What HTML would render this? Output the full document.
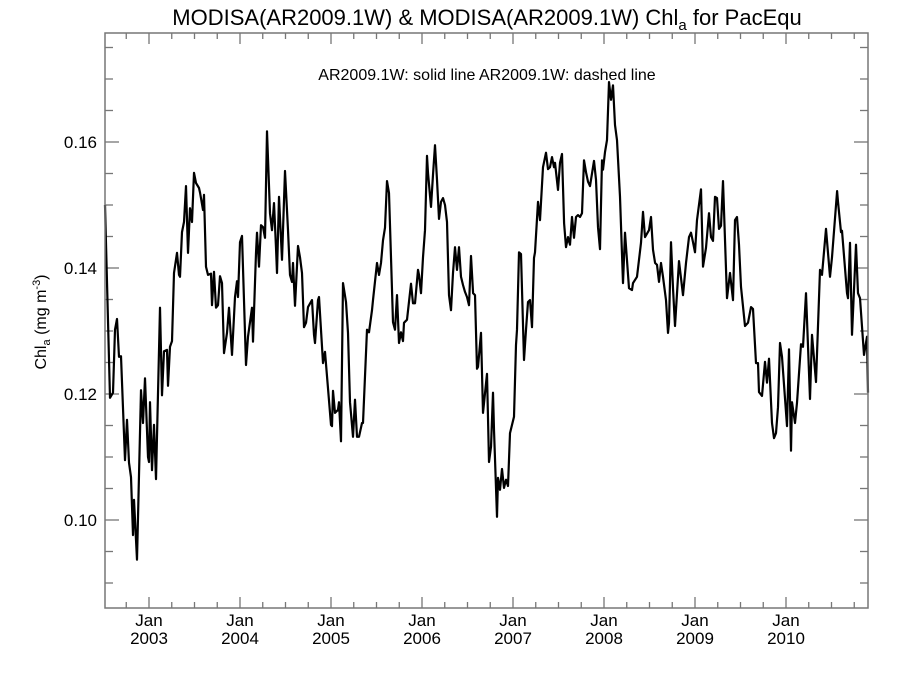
<!DOCTYPE html>
<html><head><meta charset="utf-8"><style>
html,body{margin:0;padding:0;background:#fff;}
svg{display:block;font-family:"Liberation Sans",Arial,sans-serif;}
</style></head><body>
<svg id="chart" width="900" height="675" viewBox="0 0 900 675" xmlns="http://www.w3.org/2000/svg">
<rect x="0" y="0" width="900" height="675" fill="#fff"/>
<text x="487" y="25" font-size="22" text-anchor="middle">MODISA(AR2009.1W) &amp; MODISA(AR2009.1W)  Chl<tspan font-size="15" dy="5">a</tspan><tspan dy="-5"> for PacEqu</tspan></text>
<text x="487" y="80" font-size="16" text-anchor="middle">AR2009.1W: solid line   AR2009.1W: dashed line</text>
<text transform="translate(46,322) rotate(-90)" font-size="16" text-anchor="middle">Chl<tspan font-size="11" dy="4">a</tspan><tspan dy="-4"> (mg m</tspan><tspan font-size="11" dy="-6">-3</tspan><tspan dy="6">)</tspan></text>
<g id="axes"></g>
<g id="series"></g>
<rect x="105" y="33" width="763" height="575" fill="none" stroke="#777" stroke-width="1.5"/>
</svg>
<script>
const times = [2002.451,2002.505,2002.538,2002.560,2002.582,2002.604,2002.626,2002.670,2002.692,2002.714,2002.736,2002.758,2002.769,2002.802,2002.846,2002.868,2002.890,2002.923,2002.934,2002.945,2002.967,2002.989,2003.011,2003.055,2003.077,2003.099,2003.132,2003.143,2003.165,2003.187,2003.209,2003.242,2003.264,2003.275,2003.297,2003.319,2003.341,2003.363,2003.385,2003.407,2003.429,2003.451,2003.484,2003.495,2003.527,2003.538,2003.560,2003.582,2003.615,2003.626,2003.648,2003.670,2003.692,2003.714,2003.736,2003.758,2003.791,2003.813,2003.846,2003.879,2003.901,2003.912,2003.934,2003.956,2004.000,2004.022,2004.066,2004.077,2004.110,2004.121,2004.143,2004.165,2004.187,2004.209,2004.231,2004.264,2004.286,2004.308,2004.330,2004.341,2004.363,2004.396,2004.429,2004.462,2004.484,2004.505,2004.516,2004.538,2004.571,2004.593,2004.615,2004.637,2004.659,2004.681,2004.725,2004.747,2004.758,2004.791,2004.802,2004.846,2004.868,2004.934,2004.945,2004.956,2004.978,2005.011,2005.022,2005.044,2005.066,2005.099,2005.121,2005.143,2005.176,2005.198,2005.220,2005.242,2005.275,2005.286,2005.330,2005.352,2005.385,2005.396,2005.440,2005.462,2005.484,2005.505,2005.527,2005.549,2005.571,2005.615,2005.637,2005.659,2005.681,2005.703,2005.725,2005.736,2005.769,2005.813,2005.835,2005.857,2005.890,2005.901,2005.923,2005.945,2005.967,2005.989,2006.000,2006.033,2006.055,2006.077,2006.099,2006.121,2006.143,2006.165,2006.187,2006.209,2006.231,2006.253,2006.275,2006.297,2006.319,2006.341,2006.363,2006.385,2006.407,2006.429,2006.451,2006.473,2006.495,2006.516,2006.538,2006.549,2006.582,2006.604,2006.648,2006.670,2006.692,2006.714,2006.725,2006.758,2006.769,2006.791,2006.813,2006.835,2006.857,2006.879,2006.901,2006.945,2006.967,2006.978,2007.000,2007.022,2007.055,2007.077,2007.099,2007.121,2007.143,2007.165,2007.176,2007.209,2007.231,2007.264,2007.297,2007.319,2007.341,2007.363,2007.385,2007.396,2007.429,2007.451,2007.473,2007.495,2007.516,2007.538,2007.560,2007.582,2007.604,2007.626,2007.648,2007.670,2007.692,2007.714,2007.736,2007.758,2007.780,2007.824,2007.846,2007.868,2007.890,2007.912,2007.923,2007.945,2007.967,2007.989,2008.011,2008.033,2008.055,2008.077,2008.110,2008.143,2008.165,2008.209,2008.242,2008.253,2008.297,2008.341,2008.363,2008.385,2008.429,2008.451,2008.473,2008.495,2008.516,2008.538,2008.560,2008.582,2008.615,2008.637,2008.648,2008.670,2008.692,2008.714,2008.758,2008.802,2008.835,2008.868,2008.890,2008.912,2008.934,2008.956,2009.000,2009.022,2009.055,2009.088,2009.110,2009.132,2009.154,2009.176,2009.198,2009.220,2009.242,2009.286,2009.319,2009.352,2009.374,2009.396,2009.418,2009.440,2009.484,2009.516,2009.549,2009.571,2009.604,2009.626,2009.637,2009.670,2009.703,2009.725,2009.747,2009.780,2009.802,2009.824,2009.846,2009.868,2009.890,2009.945,2009.967,2009.989,2010.000,2010.033,2010.055,2010.099,2010.121,2010.154,2010.198,2010.220,2010.264,2010.308,2010.330,2010.374,2010.418,2010.440,2010.495,2010.505,2010.538,2010.549,2010.604,2010.615,2010.637,2010.659,2010.703,2010.725,2010.747,2010.791,2010.824,2010.835];
const chlValues = [0.1500,0.1194,0.1202,0.1302,0.1319,0.1259,0.1260,0.1095,0.1159,0.1091,0.1068,0.0976,0.1032,0.0937,0.1206,0.1154,0.1225,0.1100,0.1092,0.1187,0.1079,0.1151,0.1065,0.1337,0.1198,0.1268,0.1270,0.1213,0.1275,0.1284,0.1392,0.1424,0.1389,0.1386,0.1457,0.1473,0.1530,0.1424,0.1495,0.1473,0.1551,0.1535,0.1527,0.1519,0.1492,0.1516,0.1402,0.1389,0.1391,0.1341,0.1394,0.1337,0.1341,0.1387,0.1376,0.1265,0.1297,0.1337,0.1262,0.1354,0.1379,0.1354,0.1441,0.1451,0.1246,0.1291,0.1337,0.1283,0.1424,0.1456,0.1402,0.1468,0.1465,0.1448,0.1617,0.1487,0.1460,0.1503,0.1432,0.1392,0.1513,0.1413,0.1554,0.1460,0.1389,0.1378,0.1408,0.1340,0.1435,0.1417,0.1392,0.1306,0.1313,0.1338,0.1349,0.1294,0.1281,0.1349,0.1354,0.1249,0.1267,0.1151,0.1149,0.1205,0.1170,0.1175,0.1187,0.1125,0.1376,0.1346,0.1297,0.1187,0.1132,0.1191,0.1132,0.1132,0.1154,0.1154,0.1302,0.1298,0.1333,0.1349,0.1408,0.1389,0.1408,0.1444,0.1464,0.1538,0.1519,0.1314,0.1302,0.1357,0.1281,0.1298,0.1284,0.1313,0.1318,0.1375,0.1344,0.1344,0.1397,0.1389,0.1360,0.1417,0.1460,0.1578,0.1551,0.1497,0.1548,0.1595,0.1540,0.1478,0.1505,0.1511,0.1500,0.1473,0.1357,0.1333,0.1392,0.1433,0.1397,0.1433,0.1386,0.1373,0.1362,0.1354,0.1341,0.1419,0.1360,0.1357,0.1240,0.1243,0.1297,0.1170,0.1232,0.1092,0.1116,0.1202,0.1143,0.1005,0.1067,0.1048,0.1081,0.1051,0.1064,0.1054,0.1138,0.1164,0.1278,0.1302,0.1425,0.1422,0.1254,0.1302,0.1346,0.1349,0.1306,0.1416,0.1425,0.1505,0.1476,0.1560,0.1583,0.1557,0.1560,0.1576,0.1560,0.1567,0.1524,0.1567,0.1581,0.1471,0.1433,0.1449,0.1437,0.1481,0.1448,0.1481,0.1484,0.1481,0.1487,0.1571,0.1552,0.1537,0.1530,0.1570,0.1540,0.1465,0.1430,0.1571,0.1556,0.1584,0.1603,0.1695,0.1667,0.1690,0.1627,0.1603,0.1513,0.1376,0.1456,0.1368,0.1365,0.1376,0.1386,0.1440,0.1489,0.1449,0.1460,0.1481,0.1429,0.1408,0.1405,0.1378,0.1408,0.1386,0.1349,0.1297,0.1313,0.1441,0.1368,0.1308,0.1411,0.1357,0.1408,0.1449,0.1456,0.1441,0.1425,0.1476,0.1525,0.1402,0.1432,0.1487,0.1449,0.1443,0.1513,0.1511,0.1462,0.1467,0.1538,0.1352,0.1392,0.1349,0.1476,0.1481,0.1437,0.1370,0.1308,0.1313,0.1338,0.1335,0.1249,0.1249,0.1203,0.1197,0.1251,0.1218,0.1256,0.1154,0.1130,0.1138,0.1179,0.1281,0.1259,0.1149,0.1271,0.1110,0.1187,0.1154,0.1186,0.1279,0.1275,0.1360,0.1192,0.1294,0.1219,0.1397,0.1389,0.1462,0.1386,0.1417,0.1522,0.1505,0.1457,0.1459,0.1360,0.1352,0.1440,0.1294,0.1437,0.1360,0.1352,0.1262,0.1291,0.1202];
const yTickValues = [0.10,0.12,0.14,0.16];
const yTickLabels = ["0.10","0.12","0.14","0.16"];
const xTickYears = [2003,2004,2005,2006,2007,2008,2009,2010];

const L=105,R=868,T=33,B=608;
// calibration: reading offset of sample dates
const dateOffset = 0.066;
function xs(t){ return 149 + (t-2003)*91; }
function ys(v){ return 142 - (v-0.16)*6300; }
const NS="http://www.w3.org/2000/svg";
const axes=document.getElementById('axes');
function ln(x1,y1,x2,y2,name){
  const l=document.createElementNS(NS,'line');
  l.setAttribute('x1',x1);l.setAttribute('y1',y1);l.setAttribute('x2',x2);l.setAttribute('y2',y2);
  l.setAttribute('stroke','#777');l.setAttribute('stroke-width','1.3');
  
  
  axes.appendChild(l);
}
function tx(x,y,s,anchor,name){
  const t=document.createElementNS(NS,'text');
  t.setAttribute('x',x);t.setAttribute('y',y);t.setAttribute('font-size','17');
  t.setAttribute('text-anchor',anchor);t.textContent=s;
  
  
  axes.appendChild(t);
}
// y minor ticks every 0.005
for(let v=0.09;v<=0.1751;v+=0.005){
  const y=ys(v); if(y<T||y>B) continue;
  const major=yTickValues.some(m=>Math.abs(m-v)<1e-6);
  const len=major?14:8;
  ln(L,y,L+len,y,'y-tick');
  ln(R,y,R-len,y,'y-tick-right');
}
yTickValues.forEach((v,i)=>tx(97,ys(v)+6,yTickLabels[i],'end','y-tick-label'));
// x ticks: quarterly minor, yearly major
for(let t=2002.5;t<=2011;t+=0.25){
  const x=xs(t); if(x<=L||x>=R) continue;
  const major=Math.abs(t-Math.round(t))<1e-6;
  const len=major?11:6;
  ln(x,B,x,B-len,'x-tick');
  ln(x,T,x,T+len,'x-tick-top');
}
xTickYears.forEach(yr=>{
  tx(xs(yr),626,'Jan','middle','x-tick-label-month');
  tx(xs(yr),644,String(yr),'middle','x-tick-label-year');
});
// series
const series=document.getElementById('series');
const p=document.createElementNS(NS,'path');
let d='';
times.forEach((t,i)=>{ d+=(i?'L':'M')+xs(t+dateOffset).toFixed(1)+' '+ys(chlValues[i]).toFixed(1); });
p.setAttribute('d',d);
p.setAttribute('fill','none');p.setAttribute('stroke','#000');p.setAttribute('stroke-width','2.2');
p.setAttribute('stroke-linejoin','round');


series.appendChild(p);
</script>
</body></html>
